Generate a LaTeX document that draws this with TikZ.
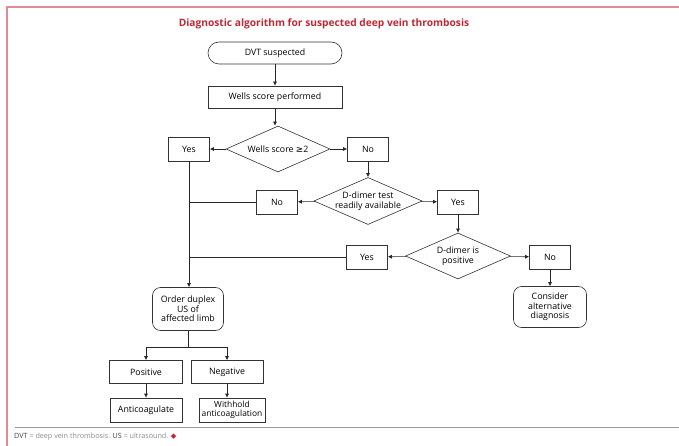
\documentclass[tikz,border=0pt]{standalone}
\usepackage{fontspec}
\setmainfont{Open Sans}
\newfontfamily\symfont{DejaVu Sans}
\usetikzlibrary{positioning, arrows.meta, shapes.geometric}
\definecolor{titlered}{RGB}{192,40,52}
\definecolor{framered}{RGB}{222,140,150}
\begin{document}
\begin{tikzpicture}[
  x=1pt, y=-1pt,
  font=\fontsize{8.8}{9.6}\selectfont,
  box/.style={draw=black!80, fill=white, line width=0.6pt, minimum width=41pt, minimum height=24pt, inner sep=1pt, align=center},
  terminal/.style={box, rounded corners=8pt},
  decision/.style={diamond, aspect=2.3, draw=black!80, fill=white, line width=0.6pt, minimum width=104pt, minimum height=46pt, inner sep=0pt, align=center},
  flow/.style={-{Latex[length=4pt, width=4pt]}, black!85, line width=0.6pt},
  link/.style={black!85, line width=0.6pt},
]
  \useasboundingbox (0,0) rectangle (679,446);

  % --- frame, title and footer ---
  \draw[framered, line width=1.2pt] (7,446) -- (7,7) -- (679,7);
  \draw[gray!80, line width=1pt] (15,427) -- (679,427);
  \node[titlered, font=\fontsize{10.2}{12}\selectfont\bfseries] (title) at (324,24) {Diagnostic algorithm for suspected deep vein thrombosis};
  \node[anchor=west, inner sep=0, font=\fontsize{7.2}{8}\selectfont] (foot) at (14,437)
    {\textcolor{black!75}{DVT} \textcolor{black!45}{= deep vein thrombosis.} \textcolor{black!75}{US} \textcolor{black!45}{= ultrasound.} \textcolor{titlered}{\symfont ◆}};

  % --- upper part: Wells score ---
  \node[terminal, minimum width=134pt, minimum height=22pt, rounded corners=11pt] (dvt) at (275,53) {DVT suspected};
  \node[box, minimum width=134pt, minimum height=22pt] (wells) at (275,97) {Wells score performed};
  \node[decision] (wdec) at (278,149) {Wells score {\symfont ≥}2};
  \node[box] (wyes) at (189,149) {Yes};
  \node[box] (wno) at (368,149) {No};

  % --- D-dimer branch ---
  \node[decision, minimum height=44pt] (ddec) at (368,201) {D-dimer test\\readily available};
  \node[box] (dno) at (277,202) {No};
  \node[box] (dyes) at (458,202) {Yes};
  \node[decision, minimum width=105pt] (pdec) at (458,256) {D-dimer is\\positive};
  \node[box] (pyes) at (367,257) {Yes};
  \node[box] (pno) at (550,257) {No};
  \node[terminal, minimum width=73pt, minimum height=41pt] (alt) at (550,307) {Consider\\alternative\\diagnosis};

  % --- ultrasound and outcomes ---
  \node[terminal, minimum width=71pt, minimum height=43pt] (duplex) at (188,309) {Order duplex\\US of\\affected limb};
  \node[box, minimum width=73pt, minimum height=23pt] (pos) at (146,372) {Positive};
  \node[box, minimum width=72pt, minimum height=23pt] (neg) at (227,372) {Negative};
  \node[box, minimum width=72pt] (anti) at (146,410) {Anticoagulate};
  \node[box, minimum width=66pt, inner sep=0.5pt, font=\fontsize{8.4}{8.8}\selectfont] (hold) at (232,410) {Withhold\\anticoagulation};
  \coordinate (split) at (188,347);

  % --- connectors ---
  \draw[flow] (dvt) -- (wells);
  \draw[flow] (wells) -- (wells |- wdec.north);
  \draw[flow] (wdec) -- (wyes);
  \draw[flow] (wdec) -- (wno);
  \draw[flow] (wno) -- (wno |- ddec.north);
  \draw[flow] (ddec) -- (dno);
  \draw[flow] (ddec) -- (dyes);
  \draw[flow] (dyes) -- (dyes |- pdec.north);
  \draw[flow] (pdec) -- (pyes);
  \draw[flow] (pdec) -- (pno);
  \draw[flow] (pno) -- (alt);
  \draw[link] (dno.west) -- (dno.west -| wyes.south);
  \draw[link] (pyes.west) -- (pyes.west -| wyes.south);
  \draw[flow] (wyes.south) -- (wyes.south |- duplex.north);
  \draw[link] (duplex.south) -- (split);
  \draw[flow] (split) -| (pos.north);
  \draw[flow] (split) -| (neg.north);
  \draw[flow] (pos) -- (anti);
  \draw[flow] (neg.south) -- (neg.south |- hold.north);
\end{tikzpicture}
\end{document}
